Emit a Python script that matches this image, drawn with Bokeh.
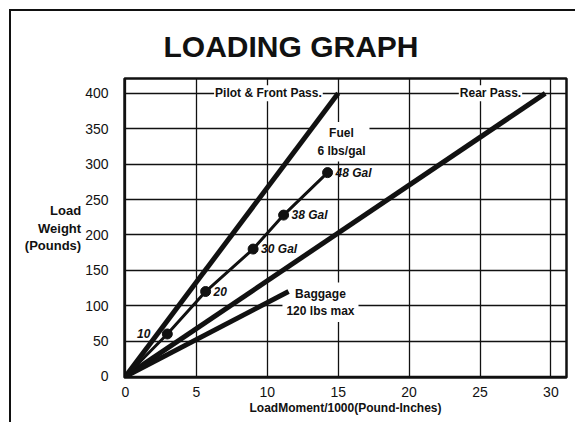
from bokeh.plotting import figure
from bokeh.models import Range1d, FixedTicker, Label, ColumnDataSource
from bokeh.core.properties import value
from bokeh.embed import file_html
from bokeh.resources import INLINE

# ---- data ----
x_ticks = [0, 5, 10, 15, 20, 25, 30]
y_ticks = [0, 50, 100, 150, 200, 250, 300, 350, 400]

pilot_moment = [0, 15.0]
pilot_weight = [0, 400]
rear_moment = [0, 29.6]
rear_weight = [0, 400]
baggage_moment = [0, 11.5]
baggage_weight = [0, 120]

fuel_labels = ["10", "20", "30 Gal", "38 Gal", "48 Gal"]
fuel_moment = [2.95, 5.65, 9.0, 11.15, 14.25]
fuel_weight = [60, 120, 180, 228, 288]

FONT = "Liberation Sans"
INK = "#111111"

p = figure(width=566, height=413,
           x_range=Range1d(-0.07, 31.1), y_range=Range1d(-1.5, 421),
           output_backend="svg", toolbar_location=None,
           min_border_left=113, min_border_right=11,
           min_border_top=66, min_border_bottom=47)
p.styles = {"margin-left": "9px", "margin-top": "9px",
            "border-left": "2px solid #111", "border-top": "2px solid #111"}

p.title.text = "LOADING GRAPH"
p.title.align = "left"
p.title.offset = 39
p.title.standoff = 32
p.title.text_font = FONT
p.title.text_font_size = "30px"
p.title.text_font_style = "bold"
p.title.text_color = INK

p.outline_line_color = INK
p.outline_line_width = 2.5
p.background_fill_color = "white"
p.border_fill_color = "white"

for ax, ticks in ((p.xaxis, x_ticks), (p.yaxis, y_ticks)):
    ax.ticker = FixedTicker(ticks=ticks)
    ax.axis_line_color = None
    ax.major_tick_line_color = None
    ax.minor_tick_line_color = None
    ax.major_label_text_font = FONT
    ax.major_label_text_font_size = "14px"
    ax.major_label_text_color = INK

p.xaxis.major_label_standoff = 3
p.yaxis.major_label_standoff = 10
p.xaxis.axis_label = "LoadMoment/1000(Pound-Inches)"
p.xaxis.axis_label_text_font = FONT
p.xaxis.axis_label_text_font_style = "bold"
p.xaxis.axis_label_text_font_size = "12px"
p.xaxis.axis_label_text_color = INK
p.xaxis.axis_label_standoff = 1

p.yaxis.axis_label = "Load\nWeight\n(Pounds)"
p.yaxis.axis_label_orientation = "horizontal"
p.yaxis.axis_label_text_font = FONT
p.yaxis.axis_label_text_font_style = "bold"
p.yaxis.axis_label_text_font_size = "13px"
p.yaxis.axis_label_text_color = INK
p.yaxis.axis_label_standoff = 1
p.yaxis.axis_label_text_align = "center"
p.yaxis.axis_label_text_line_height = 1.15

p.xgrid.ticker = FixedTicker(ticks=x_ticks)
p.ygrid.ticker = FixedTicker(ticks=y_ticks)
for g in (p.xgrid, p.ygrid):
    g.grid_line_color = INK
    g.grid_line_width = 1.3


def lab(x, y, text, pad=2):
    p.add_layout(Label(x=x, y=y, text=text, text_font=FONT, text_font_size="12px",
                       text_font_style="bold", text_color=INK, text_align="center",
                       text_baseline="middle", text_line_height=1.25,
                       background_fill_color="white", padding=pad, level="underlay"))


lab(10.08, 400, "Pilot & Front Pass.", pad=1)
lab(25.74, 400, "Rear Pass.", pad=1)
lab(15.23, 331.5, "Fuel\n6 lbs/gal", pad=4)
lab(13.75, 104.8, "Baggage\n120 lbs max", pad=4)

# lines
p.line(pilot_moment, pilot_weight, line_width=5, color=INK)
p.line(rear_moment, rear_weight, line_width=5, color=INK)
p.line(baggage_moment, baggage_weight, line_width=5, color=INK)
p.line([0] + fuel_moment, [0] + fuel_weight, line_width=3, color=INK)
p.scatter(fuel_moment, fuel_weight, size=10, color=INK)

# fuel point labels
src_r = ColumnDataSource(dict(x=fuel_moment[1:], y=fuel_weight[1:], t=fuel_labels[1:]))
p.text(x="x", y="y", text="t", source=src_r, x_offset=8, text_align="left",
       text_baseline="middle", text_font=value(FONT), text_font_size="12px",
       text_font_style="bold italic", text_color=INK)
src_l = ColumnDataSource(dict(x=fuel_moment[:1], y=fuel_weight[:1], t=fuel_labels[:1]))
p.text(x="x", y="y", text="t", source=src_l, x_offset=-17, text_align="right",
       text_baseline="middle", text_font=value(FONT), text_font_size="12px",
       text_font_style="bold italic", text_color=INK)

open("out.html", "w").write(file_html(p, INLINE))
